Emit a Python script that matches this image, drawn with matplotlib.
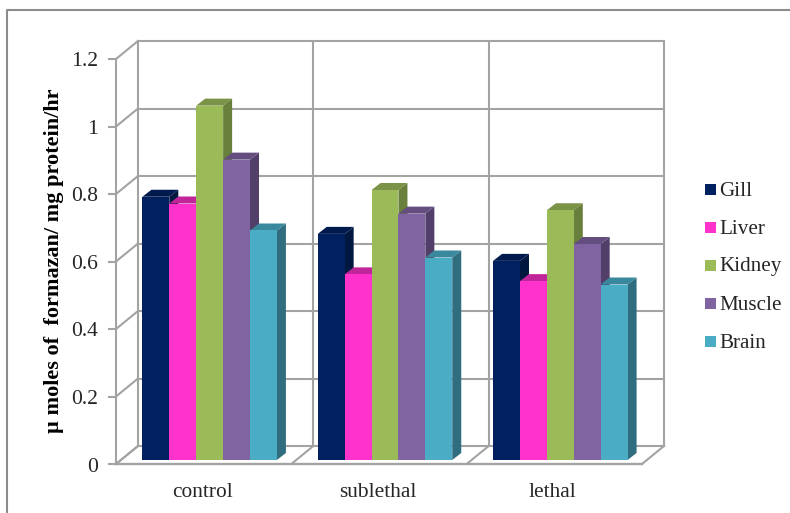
import matplotlib
matplotlib.use("Agg")
import matplotlib.pyplot as plt
from matplotlib.patches import Polygon, Rectangle
from matplotlib.lines import Line2D

plt.rcParams['font.family'] = ['Liberation Serif', 'DejaVu Serif']

categories = ["control", "sublethal", "lethal"]
series_names = ["Gill", "Liver", "Kidney", "Muscle", "Brain"]
gill = [0.78, 0.67, 0.59]
liver = [0.76, 0.55, 0.53]
kidney = [1.05, 0.80, 0.74]
muscle = [0.89, 0.73, 0.64]
brain = [0.68, 0.60, 0.52]
series_values = [gill, liver, kidney, muscle, brain]
y_ticks = [0, 0.2, 0.4, 0.6, 0.8, 1, 1.2]
y_tick_labels = ["0", "0.2", "0.4", "0.6", "0.8", "1", "1.2"]

front_colors = ["#00205F", "#FF33CC", "#9BBB59", "#8064A2", "#4BACC6"]
top_colors = ["#001A4D", "#C0269A", "#7A9346", "#644E80", "#39889D"]
side_colors = ["#00173F", "#C0269A", "#697F3C", "#523F69", "#306E7F"]
GRID = "#A3A3A3"
W, H = 790, 513

fig = plt.figure(figsize=(W / 100, H / 100), dpi=100, facecolor="white")
# Front plane of the box: x 116-642 px, y 59-464 px from the top
ax = fig.add_axes([116 / W, 1 - 464 / H, 526 / W, 405 / H])
ax.set_xlim(0, 3)
ax.set_ylim(0, 1.2)
ax.axis("off")

px_x = 3 / 526
px_y = 1.2 / 405
wall_dx, wall_dy = 22 * px_x, 18 * px_y
bar_dx, bar_dy = 6 * px_x, 4 * px_y
side_dx, side_dy = 9 * px_x, 7 * px_y
bar_w = 26.9 * px_x


def line(xs, ys, lw=1.5, color=GRID, z=1):
    ax.add_line(Line2D(xs, ys, color=color, lw=lw, clip_on=False, zorder=z,
                       solid_capstyle="projecting"))


# Back wall gridlines and depth lines along the left side
for t in y_ticks:
    line([wall_dx, 3 + wall_dx], [t + wall_dy, t + wall_dy])
    line([0, wall_dx], [t, t + wall_dy])
    line([-7 * px_x, 0], [t, t])
for i in range(4):
    line([i + wall_dx, i + wall_dx], [wall_dy, 1.2 + wall_dy])
    line([i, i + wall_dx], [0, wall_dy])
line([0, 0], [0, 1.2])
line([0, 3], [0, 0], lw=1.7)

# Bars: side and top faces behind the front face, left to right
for g in range(len(categories)):
    start = g + 0.5 - 2.5 * bar_w + bar_dx
    for s, vals in enumerate(series_values):
        v = vals[g]
        x0, x1 = start + s * bar_w, start + (s + 1) * bar_w
        y0, y1 = bar_dy, v + bar_dy
        z = 3 + s * 0.1
        ax.add_patch(Polygon([(x1, y0), (x1 + side_dx, y0 + side_dy),
                              (x1 + side_dx, y1 + side_dy), (x1, y1)],
                             fc=side_colors[s], ec="none", zorder=z, clip_on=False))
        ax.add_patch(Polygon([(x0, y1), (x0 + side_dx, y1 + side_dy),
                              (x1 + side_dx, y1 + side_dy), (x1, y1)],
                             fc=top_colors[s], ec="none", zorder=z, clip_on=False))
        ax.add_patch(Rectangle((x0, y0), x1 - x0, y1 - y0, fc=front_colors[s],
                               ec="none", zorder=z + 0.05, clip_on=False))

# Axis labels
for t, lab in zip(y_ticks, y_tick_labels):
    ax.text(-17.5 * px_x, t - 3 * px_y, lab, ha="right", va="center",
            fontsize=15.6, color="#262626")
for g, cat in enumerate(categories):
    ax.text(g + 0.5 - 1.5 * px_x, -29 * px_y, cat, ha="center", va="center",
            fontsize=15.4, color="#262626")
fig.text(54 / W, 1 - 261 / H, "\u00b5 moles of  formazan/ mg protein/hr", rotation=90,
         ha="center", va="center", fontsize=16, fontweight="bold", color="black")

# Legend swatches with labels
leg_y = [189.5, 227, 265, 303, 341]
for name, c, y in zip(series_names, front_colors, leg_y):
    fig.add_artist(Rectangle((705 / W, 1 - (y + 5.5) / H), 10.5 / W, 11 / H, fc=c, ec="none",
                             transform=fig.transFigure))
    fig.text(719 / W, 1 - (y + 2) / H, name, ha="left", va="center", fontsize=15.2,
             color="#262626")

# Outer chart frame
fig.add_artist(Line2D([7 / W, 7 / W, 790 / W], [0, 1 - 10 / H, 1 - 10 / H],
                      color="#8C8C8C", lw=1.5, transform=fig.transFigure))

fig.savefig("out.png", dpi=100, facecolor="white")
